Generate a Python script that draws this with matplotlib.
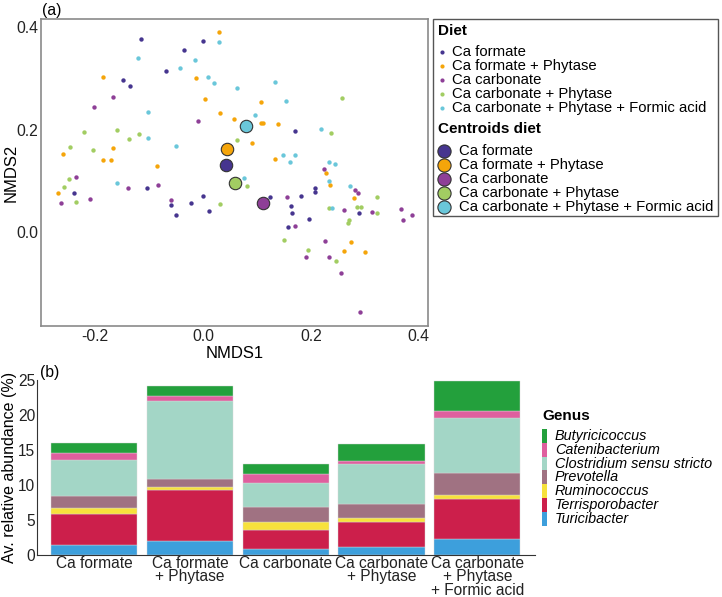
import matplotlib.pyplot as plt
import numpy as np
from matplotlib.lines import Line2D
from matplotlib.patches import Rectangle

plt.rcParams['font.family'] = ['Liberation Sans', 'DejaVu Sans']

# ---- panel (a): NMDS scores per diet ----
diets = ['Ca formate', 'Ca formate + Phytase', 'Ca carbonate',
         'Ca carbonate + Phytase', 'Ca carbonate + Phytase + Formic acid']
diet_colors = ['#46358f', '#f5a50a', '#8e3f97', '#a2cd62', '#6ac7da']

formate_x = [-0.115, 0.000, -0.036, -0.069, -0.149, -0.135, 0.170, -0.104, -0.238, -0.059,
             -0.050, -0.022, 0.001, 0.011, 0.125, 0.163, 0.165, 0.181, 0.157, 0.197,
             0.207, 0.208, 0.290]
formate_y = [0.377, 0.372, 0.355, 0.314, 0.296, 0.285, 0.198, 0.087, 0.077, 0.054,
             0.034, 0.058, 0.070, 0.042, 0.069, 0.051, 0.037, 0.071, 0.011, 0.027,
             0.087, 0.079, 0.038]

formate_phy_x = [0.030, -0.186, -0.012, 0.004, 0.107, 0.031, 0.057, 0.107, 0.112, 0.139,
                 -0.259, -0.167, 0.091, -0.186, -0.170, -0.086, 0.134, -0.268, 0.228, 0.236,
                 0.280, 0.275, 0.262, 0.301]
formate_phy_y = [0.389, 0.303, 0.300, 0.260, 0.254, 0.233, 0.220, 0.213, 0.213, 0.211,
                 0.152, 0.165, 0.173, 0.140, 0.141, 0.130, 0.143, 0.077, 0.116, 0.093,
                 0.066, -0.018, -0.037, -0.038]

carbonate_x = [-0.167, -0.202, -0.010, -0.236, -0.084, -0.138, -0.263, -0.209, -0.060, 0.155,
               0.171, 0.191, 0.226, 0.233, 0.256, 0.224, 0.262, 0.281, 0.288, 0.314,
               0.367, 0.371, 0.388, 0.291]
carbonate_y = [0.264, 0.243, 0.217, 0.108, 0.093, 0.086, 0.058, 0.065, 0.064, 0.069,
               0.012, -0.048, -0.016, -0.047, -0.078, 0.123, 0.043, 0.083, 0.076, 0.040,
               0.045, 0.024, 0.034, -0.155]

carbonate_phy_x = [-0.221, -0.160, -0.119, -0.137, -0.247, -0.203, 0.064, -0.249, -0.257, -0.236,
                   0.081, 0.031, 0.151, 0.195, 0.247, 0.237, 0.258, 0.233, 0.270, 0.269,
                   0.285, 0.292, 0.322, 0.323]
carbonate_phy_y = [0.195, 0.199, 0.191, 0.181, 0.166, 0.160, 0.179, 0.103, 0.089, 0.060,
                   0.090, 0.056, -0.014, -0.034, -0.056, 0.194, 0.261, 0.048, 0.025, 0.018,
                   0.049, 0.049, 0.038, 0.068]

carbonate_phy_fa_x = [0.029, -0.121, -0.015, -0.043, 0.010, 0.020, 0.064, 0.133, 0.154, -0.101,
                      0.096, -0.101, -0.049, 0.148, 0.170, 0.161, -0.160, 0.077, 0.219, 0.234,
                      0.244, 0.234, 0.239, 0.272]
carbonate_phy_fa_y = [0.370, 0.339, 0.336, 0.319, 0.302, 0.290, 0.280, 0.292, 0.256, 0.235,
                      0.228, 0.183, 0.169, 0.150, 0.150, 0.136, 0.097, 0.106, 0.202, 0.137,
                      0.134, 0.100, 0.048, 0.091]

centroid_x = [0.043, 0.044, 0.111, 0.060, 0.080]
centroid_y = [0.131, 0.162, 0.058, 0.097, 0.206]

# ---- panel (b): average relative abundance ----
bar_labels = ['Ca formate', 'Ca formate\n+ Phytase', 'Ca carbonate',
              'Ca carbonate\n+ Phytase', 'Ca carbonate\n+ Phytase\n+ Formic acid']
genera = ['Turicibacter', 'Terrisporobacter', 'Ruminococcus', 'Prevotella',
          'Clostridium sensu stricto', 'Catenibacterium', 'Butyricicoccus']
genus_colors = ['#3d9fdc', '#cc1f4b', '#f7e13c', '#a07282', '#a3d6c6', '#df5f9e', '#23a03c']
turicibacter = [1.48, 1.95, 0.81, 1.14, 2.33]
terrisporobacter = [4.38, 7.38, 2.71, 3.62, 5.62]
ruminococcus = [0.85, 0.43, 1.15, 0.53, 0.57]
prevotella = [1.67, 1.10, 2.14, 1.95, 3.15]
clostridium = [5.19, 11.14, 3.48, 5.81, 7.90]
catenibacterium = [1.00, 0.71, 1.23, 0.43, 1.05]
butyricicoccus = [1.48, 1.39, 1.48, 2.33, 4.24]

W, H = 722, 597
fig = plt.figure(figsize=(W / 100, H / 100), dpi=100)


def fx(px):
    return px / W


def fy(py):
    return 1 - py / H


def fmt(v, p):
    return f'{v:.1f}'.replace('-0.0', '0.0')


# ================= (a) =================
ax1 = fig.add_axes([0.0568, 0.4539, 0.536, 0.5143])
groups = [(formate_x, formate_y), (formate_phy_x, formate_phy_y), (carbonate_x, carbonate_y),
          (carbonate_phy_x, carbonate_phy_y), (carbonate_phy_fa_x, carbonate_phy_fa_y)]
for (gx, gy), c in zip(groups, diet_colors):
    ax1.scatter(gx, gy, s=10, color=c, linewidths=0, zorder=2)
for i, c in enumerate(diet_colors):
    ax1.scatter(centroid_x[i], centroid_y[i], s=80, color=c, edgecolors='#333333',
                linewidths=0.8, zorder=3)

ax1.set_xlim(-0.30, 0.417)
ax1.set_ylim(-0.182, 0.415)
ax1.set_xticks([-0.2, 0.0, 0.2, 0.4])
ax1.set_yticks([0.0, 0.2, 0.4])
ax1.xaxis.set_major_formatter(plt.FuncFormatter(fmt))
ax1.yaxis.set_major_formatter(plt.FuncFormatter(fmt))
ax1.tick_params(length=0, labelsize=11.3, pad=2, colors='#222222')
for sp in ax1.spines.values():
    sp.set_color('#8a8a8a')
    sp.set_linewidth(1.2)
ax1.set_xlabel('NMDS1', fontsize=12)
ax1.xaxis.set_label_coords(0.5, -0.065)
ax1.set_ylabel('NMDS2', fontsize=12)
ax1.yaxis.set_label_coords(-0.058, 0.5)
fig.text(fx(42), fy(10), '(a)', fontsize=11.3, va='center', ha='left')

# legend box for (a), laid out by hand
fig.patches.append(Rectangle((fx(433), fy(216)), fx(285), 197 / H,
                             transform=fig.transFigure, fill=False,
                             edgecolor='#555555', linewidth=1.0))
fig.text(fx(438), fy(31), 'Diet', fontsize=11, fontweight='bold', va='center')
for i, (name, c) in enumerate(zip(diets, diet_colors)):
    yy = fy(52 + 14 * i)
    fig.add_artist(Line2D([fx(442)], [yy], marker='o', markersize=3, linestyle='none',
                          markerfacecolor=c, markeredgewidth=0))
    fig.text(fx(452), yy, name, fontsize=10.7, va='center')
fig.text(fx(438), fy(129), 'Centroids diet', fontsize=11, fontweight='bold', va='center')
for i, (name, c) in enumerate(zip(diets, diet_colors)):
    yy = fy(151 + 14 * i)
    fig.add_artist(Line2D([fx(444)], [yy], marker='o', markersize=9.5, linestyle='none',
                          markerfacecolor=c, markeredgecolor='#333333',
                          markeredgewidth=0.8))
    fig.text(fx(459), yy, name, fontsize=10.7, va='center')

# ================= (b) =================
ax2 = fig.add_axes([0.0508, 0.0704, 0.690, 0.2931])
x = np.arange(len(bar_labels))
layers = [turicibacter, terrisporobacter, ruminococcus, prevotella,
          clostridium, catenibacterium, butyricicoccus]
bottom = np.zeros(len(bar_labels))
for vals, c, name in zip(layers, genus_colors, genera):
    ax2.bar(x, vals, 0.9, bottom=bottom, color=c, edgecolor='#d8d8d8', linewidth=0.3,
            label=name)
    bottom += np.array(vals)

ax2.set_xlim(-0.6, 4.6)
ax2.set_ylim(0, 25)
ax2.set_yticks([0, 5, 10, 15, 20, 25])
ax2.set_xticks(x)
ax2.set_xticklabels(bar_labels, linespacing=0.84)
ax2.tick_params(length=0, labelsize=11.2, pad=1, colors='#222222')
ax2.spines['top'].set_visible(False)
ax2.spines['right'].set_visible(False)
ax2.spines['left'].set_color('#333333')
ax2.spines['bottom'].set_color('#333333')
ax2.set_ylabel('Av. relative abundance (%)', fontsize=11.5)
ax2.yaxis.set_label_coords(-0.040, 0.5)
fig.text(fx(40), fy(373), '(b)', fontsize=11.3, va='center', ha='left')

# genus legend, laid out by hand (top entry = top of the stack)
fig.text(fx(542), fy(416), 'Genus', fontsize=11, fontweight='bold', va='center')
for i, (name, c) in enumerate(zip(genera[::-1], genus_colors[::-1])):
    yc = 436 + 13.8 * i
    fig.patches.append(Rectangle((fx(542), fy(yc + 6.9)), fx(4.5), 13.8 / H,
                                 transform=fig.transFigure, facecolor=c,
                                 edgecolor='none'))
    fig.text(fx(555), fy(yc), name, fontsize=10.4, fontstyle='italic', va='center')

fig.savefig('out.png', dpi=100)
